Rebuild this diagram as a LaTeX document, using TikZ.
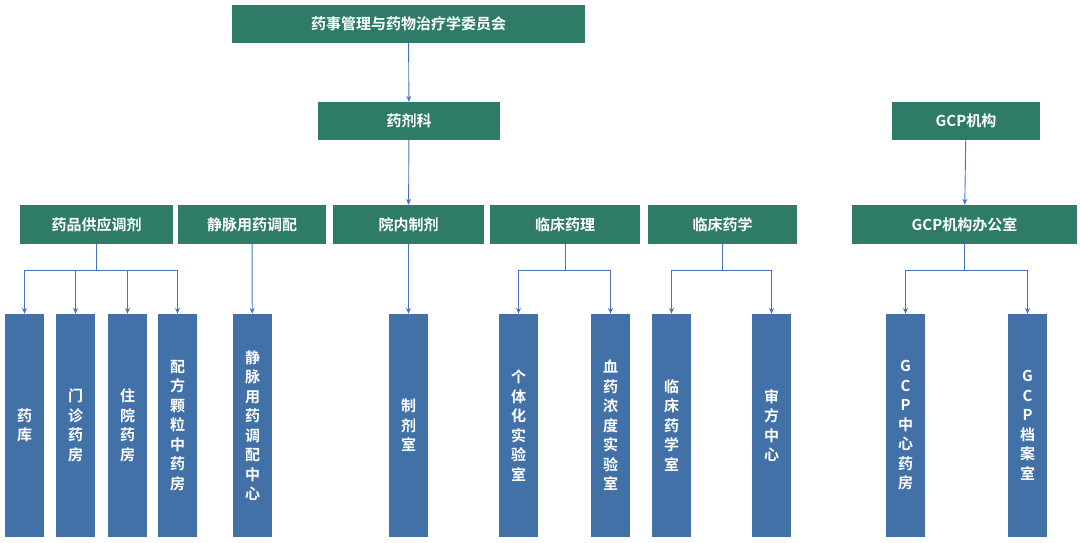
\documentclass[tikz,border=0pt]{standalone}
\usepackage{fontspec}
\setmainfont{Noto Sans CJK SC}[BoldFont={Noto Sans CJK SC Bold}]
\usetikzlibrary{arrows.meta}
\definecolor{gbox}{RGB}{46,123,104}
\definecolor{bbox}{RGB}{66,113,168}
\definecolor{lnk}{RGB}{68,114,196}
\begin{document}
\begin{tikzpicture}[x=1pt,y=-1pt,
  gb/.style={fill=gbox,draw=none,text=white,font=\bfseries\fontsize{15}{17}\selectfont,inner sep=0},
  bb/.style={fill=bbox,draw=none,text=white,font=\bfseries\fontsize{15}{19.5}\selectfont,inner sep=0,align=center},
  ar/.style={draw=lnk,line width=0.9pt,-{Stealth[length=6pt,width=5pt]}},
  ln/.style={draw=lnk,line width=0.9pt}]
\useasboundingbox (0,0) rectangle (1080,542);
\newcommand{\gbx}[6]{\node[gb,minimum width=#3-#2,minimum height=#5-#4] (#1) at ({(#2+#3)/2},{(#4+#5)/2}) {#6};}
\newcommand{\bbx}[4]{\node[bb,minimum width=39,minimum height=223] (#1) at ({#2+19.5},425.5) {#4};}
\gbx{top}{232}{585}{5}{43}{药事管理与药物治疗学委员会}
\gbx{yjk}{318}{500}{102}{140}{药剂科}
\gbx{gcp}{892}{1040}{102}{140}{GCP机构}
\gbx{a}{20}{173}{205}{244}{药品供应调剂}
\gbx{b}{178}{326}{205}{244}{静脉用药调配}
\gbx{c}{333}{484}{205}{244}{院内制剂}
\gbx{d}{490}{640}{205}{244}{临床药理}
\gbx{e}{648}{797}{205}{244}{临床药学}
\gbx{f}{852}{1077}{205}{244}{GCP机构办公室}
\bbx{a1}{5}{}{药\\库}
\bbx{a2}{56}{}{门\\诊\\药\\房}
\bbx{a3}{108}{}{住\\院\\药\\房}
\bbx{a4}{158}{}{配\\方\\颗\\粒\\中\\药\\房}
\bbx{b1}{233}{}{静\\脉\\用\\药\\调\\配\\中\\心}
\bbx{c1}{389}{}{制\\剂\\室}
\bbx{d1}{499}{}{个\\体\\化\\实\\验\\室}
\bbx{d2}{591}{}{血\\药\\浓\\度\\实\\验\\室}
\bbx{e1}{652}{}{临\\床\\药\\学\\室}
\bbx{e2}{752}{}{审\\方\\中\\心}
\bbx{f1}{886}{}{G\\C\\P\\中\\心\\药\\房}
\bbx{f2}{1008}{}{G\\C\\P\\档\\案\\室}
\draw[ar] (top) -- (yjk);
\draw[ar] (yjk) -- (c);
\draw[ar] (gcp) -- (f);
\draw[ar] (b) -- (b1);
\draw[ar] (c) -- (c1);
\coordinate (ja) at (a.south |- 0,270);
\coordinate (jd) at (d.south |- 0,270);
\coordinate (je) at (e.south |- 0,270);
\coordinate (jf) at (f.south |- 0,270);
\draw[ln] (a.south) -- (ja);
\draw[ln] (d.south) -- (jd);
\draw[ln] (e.south) -- (je);
\draw[ln] (f.south) -- (jf);
\foreach \j/\t in {ja/a1,ja/a2,ja/a3,ja/a4,jd/d1,jd/d2,je/e1,je/e2,jf/f1,jf/f2}{
  \draw[ar] (\j) -| (\t.north);
}
\end{tikzpicture}
\end{document}
